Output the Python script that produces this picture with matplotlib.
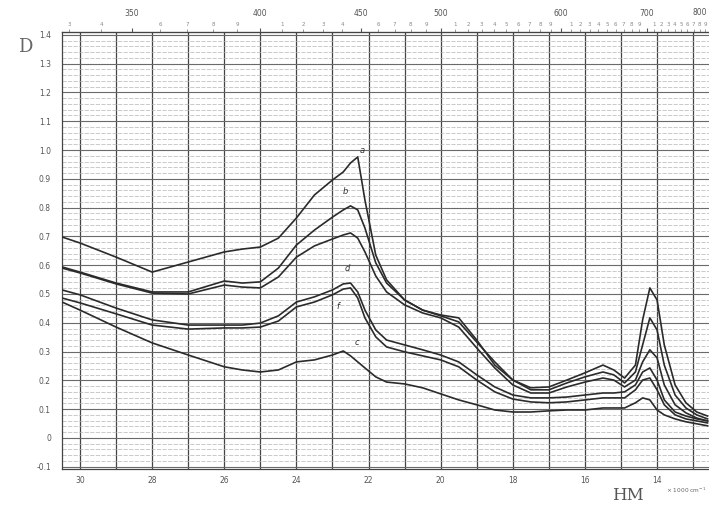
import matplotlib
matplotlib.use("Agg")
import matplotlib.pyplot as plt
from matplotlib.ticker import FixedLocator, FuncFormatter, MultipleLocator

# wavenumber grid (x 1000 cm^-1)
wavenumber = [30.5, 30, 29, 28, 27, 26, 25.5, 25, 24.5, 24, 23.5, 23, 22.7, 22.5, 22.3,
              22.1, 21.8, 21.5, 21, 20.5, 20, 19.5, 19, 18.5, 18, 17.5, 17, 16.5, 16,
              15.5, 15.2, 14.9, 14.6, 14.4, 14.2, 14.0, 13.8, 13.5, 13.2, 12.9, 12.6]

curve_a = [0.698, 0.677, 0.628, 0.576, 0.611, 0.646, 0.656, 0.663, 0.694, 0.764, 0.844,
           0.896, 0.924, 0.955, 0.976, 0.826, 0.635, 0.549, 0.479, 0.444, 0.427, 0.417,
           0.340, 0.253, 0.201, 0.174, 0.177, 0.201, 0.226, 0.253, 0.236, 0.208, 0.253,
           0.410, 0.521, 0.479, 0.323, 0.184, 0.122, 0.090, 0.076]
curve_b = [0.594, 0.576, 0.538, 0.507, 0.507, 0.545, 0.538, 0.542, 0.590, 0.670, 0.722,
           0.767, 0.792, 0.806, 0.792, 0.729, 0.608, 0.538, 0.479, 0.444, 0.424, 0.403,
           0.333, 0.264, 0.201, 0.167, 0.167, 0.191, 0.212, 0.229, 0.219, 0.191, 0.229,
           0.323, 0.417, 0.375, 0.253, 0.149, 0.104, 0.080, 0.066]
curve_c = [0.590, 0.573, 0.535, 0.503, 0.500, 0.531, 0.524, 0.521, 0.559, 0.628, 0.667,
           0.691, 0.705, 0.712, 0.694, 0.646, 0.5625, 0.507, 0.462, 0.434, 0.417, 0.385,
           0.3125, 0.243, 0.184, 0.156, 0.156, 0.177, 0.194, 0.208, 0.201, 0.177, 0.201,
           0.264, 0.306, 0.278, 0.184, 0.115, 0.087, 0.069, 0.059]
curve_d = [0.514, 0.497, 0.451, 0.410, 0.392, 0.392, 0.392, 0.399, 0.424, 0.472, 0.490,
           0.514, 0.535, 0.538, 0.507, 0.444, 0.375, 0.340, 0.323, 0.306, 0.288, 0.264,
           0.219, 0.177, 0.149, 0.139, 0.139, 0.142, 0.149, 0.156, 0.156, 0.160, 0.184,
           0.229, 0.243, 0.201, 0.132, 0.090, 0.076, 0.066, 0.059]
curve_e = [0.486, 0.469, 0.431, 0.392, 0.378, 0.382, 0.382, 0.385, 0.406, 0.455, 0.472,
           0.497, 0.517, 0.521, 0.486, 0.417, 0.351, 0.316, 0.299, 0.285, 0.271, 0.247,
           0.201, 0.160, 0.135, 0.125, 0.122, 0.125, 0.132, 0.139, 0.139, 0.139, 0.167,
           0.201, 0.208, 0.167, 0.115, 0.080, 0.066, 0.059, 0.052]
curve_f = [0.472, 0.444, 0.385, 0.330, 0.288, 0.247, 0.236, 0.229, 0.236, 0.264, 0.271,
           0.288, 0.302, 0.285, 0.264, 0.243, 0.212, 0.194, 0.1875, 0.174, 0.153, 0.132,
           0.115, 0.097, 0.090, 0.090, 0.094, 0.097, 0.097, 0.104, 0.104, 0.104, 0.122,
           0.139, 0.132, 0.097, 0.080, 0.066, 0.056, 0.049, 0.042]

curves = [curve_a, curve_b, curve_c, curve_d, curve_e, curve_f]

# curve marks written on the chart near the 22 000 cm^-1 band
mark_texts = ["a", "b", "d", "f", "c"]
mark_wn = [22.18, 22.65, 22.6, 22.85, 22.32]
mark_d = [1.00, 0.855, 0.59, 0.455, 0.33]

y_ticks = [1.4, 1.3, 1.2, 1.1, 1.0, 0.9, 0.8, 0.7, 0.6, 0.5, 0.4, 0.3, 0.2, 0.1, 0, -0.1]
y_labels = ["1.4", "1.3", "1.2", "1.1", "1.0", "0.9", "0.8", "0.7", "0.6", "0.5",
            "0.4", "0.3", "0.2", "0.1", "0", "-0.1"]
x_ticks = [30, 28, 26, 24, 22, 20, 18, 16, 14]
x_labels = ["30", "28", "26", "24", "22", "20", "18", "16", "14"]
nm_major = [350, 400, 450, 500, 600, 700]
nm_minor = [330, 340, 360, 370, 380, 390, 410, 420, 430, 440, 460, 470, 480, 490,
            510, 520, 530, 540, 550, 560, 570, 580, 590, 610, 620, 630, 640, 650,
            660, 670, 680, 690, 710, 720, 730, 740, 750, 760, 770, 780, 790]

TXT = "#555555"
fig = plt.figure(figsize=(7.09, 5.12), dpi=100)
fig.patch.set_facecolor("white")
ax = fig.add_axes([62 / 709, 1 - 469 / 512, 1 - 62 / 709, (469 - 32) / 512])
ax.set_xlim(30.5, 12.56)
ax.set_ylim(-0.108, 1.41)

# paper grid
ax.xaxis.set_minor_locator(MultipleLocator(1))
ax.yaxis.set_minor_locator(MultipleLocator(0.02))
ax.grid(which="minor", axis="x", color="#444444", lw=0.9)
ax.grid(which="minor", axis="y", color="#b5b5b5", lw=0.5, ls=(0, (6, 2)))
ax.grid(which="major", axis="y", color="#6a6a6a", lw=0.8)
ax.grid(which="major", axis="x", color="#444444", lw=0.9)
ax.set_axisbelow(True)

for c in curves:
    ax.plot(wavenumber, c, color="#2b2b2b", lw=1.2, zorder=3)

for t, xw, yd in zip(mark_texts, mark_wn, mark_d):
    ax.text(xw, yd, t, fontsize=6, color="#333333", ha="center", va="center",
            fontstyle="italic", zorder=4)

ax.set_yticks(y_ticks)
ax.set_yticklabels(y_labels)
ax.set_xticks(x_ticks)
ax.set_xticklabels(x_labels)
ax.tick_params(axis="both", which="both", length=0, labelsize=5.5, colors=TXT, pad=5)
ax.tick_params(axis="y", pad=8)
for s in ax.spines.values():
    s.set_color("#444444")
    s.set_linewidth(0.9)
ax.spines["right"].set_visible(False)

# top wavelength scale (nm)
conv = lambda v: 1e4 / v
sec = ax.secondary_xaxis("top", functions=(conv, conv))
sec.xaxis.set_major_locator(FixedLocator(nm_major))
sec.xaxis.set_minor_locator(FixedLocator(nm_minor))
sec.xaxis.set_minor_formatter(FuncFormatter(lambda v, p: str(int(round(v)) // 10 % 10)))
sec.tick_params(which="major", length=3, pad=7, labelsize=5.5, colors=TXT)
sec.tick_params(which="minor", length=2, pad=1.5, labelsize=4, colors="#888888")
sec.spines["top"].set_color("#444444")
ax.text(0.985, 1.035, "800", transform=ax.transAxes, fontsize=5.5, color=TXT,
        ha="center", va="bottom")

fig.text(25 / 709, 1 - 47 / 512, "D", fontsize=13, color="#666666",
         family="DejaVu Serif", ha="center", va="center")
fig.text(628 / 709, 1 - 495 / 512, "HM", fontsize=12, color="#555555",
         family="DejaVu Serif", ha="center", va="center")
fig.text(706 / 709, 1 - 490 / 512, "× 1000 cm$^{-1}$", fontsize=4.2, color="#666666",
         ha="right", va="center")

fig.savefig("out.png", dpi=100, facecolor="white")
